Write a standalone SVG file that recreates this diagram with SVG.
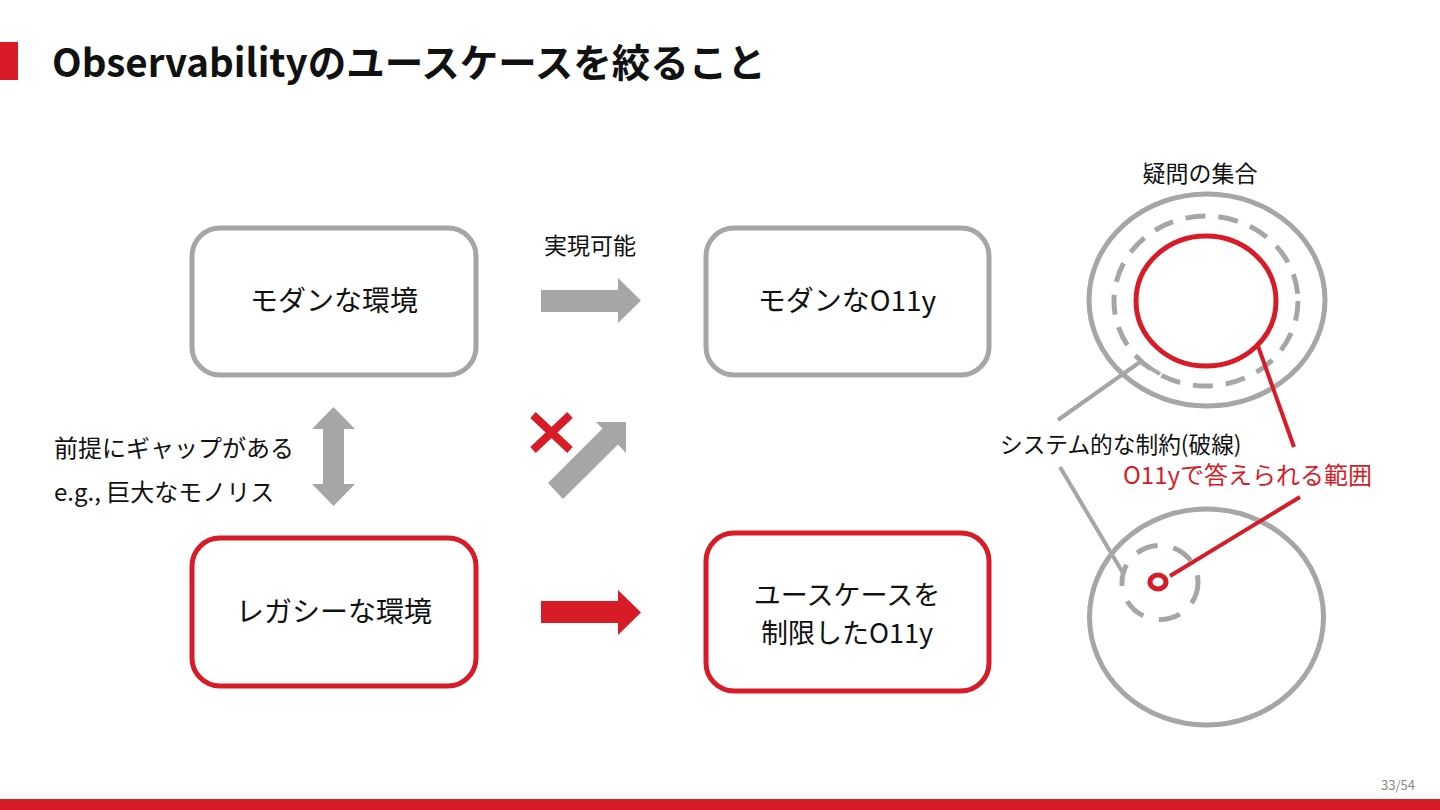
<svg xmlns="http://www.w3.org/2000/svg" width="1440" height="810" viewBox="0 0 1440 810">
<defs>
<style>
.t{font-family:"Noto Sans CJK JP","Noto Sans",sans-serif;fill:#111}
.box-g{fill:#fff;stroke:#a6a6a6;stroke-width:5}
.box-r{fill:#fff;stroke:#d71c28;stroke-width:5}
.ag{fill:#a6a6a6}
.ar{fill:#d71c28}
.lg{fill:none;stroke:#a6a6a6;stroke-width:5}
.lr{fill:none;stroke:#d71c28;stroke-width:5}
</style>
</defs>
<rect width="1440" height="810" fill="#fff"/>
<g id="title">
<rect x="0" y="42" width="18" height="38" fill="#d71c28"/>
<text class="t" x="52" y="77" font-size="38.5" font-weight="bold">Observabilityのユースケースを絞ること</text>
</g>
<g id="footer">
<rect x="0" y="799" width="1440" height="11" fill="#d71c28"/>
<text class="t" x="1415" y="790" font-size="13" text-anchor="end" style="fill:#888">33/54</text>
</g>
<g id="node-modern-env">
<rect class="box-g" x="192" y="228" width="284" height="147" rx="28"/>
<text class="t" x="334" y="311" font-size="28" text-anchor="middle">モダンな環境</text>
</g>
<g id="node-modern-o11y">
<rect class="box-g" x="706" y="228" width="283" height="147" rx="28"/>
<text class="t" x="847" y="311" font-size="28" text-anchor="middle">モダンなO11y</text>
</g>
<g id="node-legacy-env">
<rect class="box-r" x="192" y="538" width="284" height="148" rx="28"/>
<text class="t" x="334" y="622" font-size="28" text-anchor="middle">レガシーな環境</text>
</g>
<g id="node-limited-o11y">
<rect class="box-r" x="706" y="533" width="283" height="158" rx="28"/>
<text class="t" x="847" y="605" font-size="27" text-anchor="middle">ユースケースを</text>
<text class="t" x="847" y="643" font-size="27" text-anchor="middle">制限したO11y</text>
</g>
<g id="label-gap">
<text class="t" x="54" y="457" font-size="24">前提にギャップがある</text>
<text class="t" x="54" y="501" font-size="24">e.g., 巨大なモノリス</text>
</g>
<g id="connectors">
<text class="t" x="590" y="254" font-size="23" text-anchor="middle">実現可能</text>
<polygon class="ag" points="541,290 618,290 618,278 641,300.5 618,323 618,312 541,312"/>
<polygon class="ar" points="541,601 618,601 618,590 641,612.5 618,635 618,623 541,623"/>
<polygon class="ag" points="333.5,407 355,429 344,429 344,484 355,484 333.5,506 312,484 323,484 323,429 312,429"/>
<polygon class="ag" points="548,483 602.5,428.5 596,422 626,422 626,453 618,444.5 563,499"/>
<path d="M533,415 L570,450 M570,415 L533,450" stroke="#d71c28" stroke-width="8" fill="none"/>
</g>
<g id="venn-top">
<text class="t" x="1200" y="182" font-size="23" text-anchor="middle">疑問の集合</text>
<ellipse class="lg" cx="1207" cy="300" rx="118" ry="106"/>
<ellipse class="lg" cx="1206" cy="301" rx="92" ry="85" stroke-width="6" stroke-dasharray="20 13"/>
<ellipse class="lr" cx="1206" cy="301" rx="70" ry="65"/>
</g>
<g id="venn-bottom">
<ellipse class="lg" cx="1206.5" cy="617" rx="117" ry="108"/>
<ellipse class="lg" cx="1160" cy="582.5" rx="38" ry="37" stroke-dasharray="22 16"/>
<ellipse class="lr" cx="1158" cy="582" rx="8" ry="7"/>
</g>
<g id="callouts">
<polyline points="1058,420 1140,362 1160,374" fill="none" stroke="#a6a6a6" stroke-width="4"/>
<line x1="1060" y1="467" x2="1123" y2="573" stroke="#a6a6a6" stroke-width="4"/>
<line x1="1258" y1="346" x2="1294" y2="447" stroke="#d71c28" stroke-width="4"/>
<line x1="1170" y1="576" x2="1300" y2="497" stroke="#d71c28" stroke-width="4"/>
<text class="t" x="1000" y="453" font-size="22.7">システム的な制約(破線)</text>
<text class="t" x="1123" y="484" font-size="24" style="fill:#d71c28">O11yで答えられる範囲</text>
</g>
</svg>
